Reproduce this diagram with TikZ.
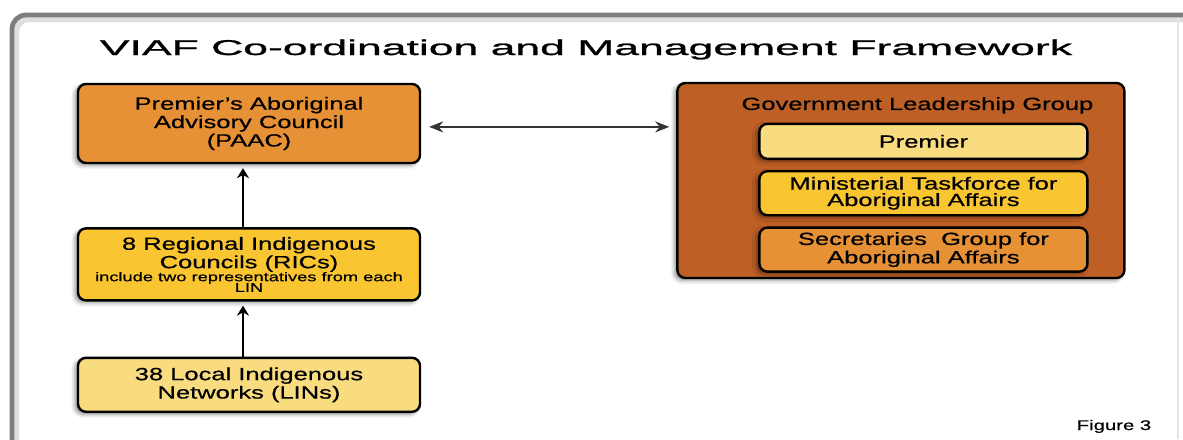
\documentclass[tikz,border=0pt]{standalone}
\usepackage{fontspec}
\setmainfont{Liberation Sans}
\newfontfamily\boxfont[FakeStretch=1.45, FakeBold=0.6]{Liberation Sans}
\newfontfamily\titlefont[FakeStretch=2.08, FakeBold=1.2]{Liberation Sans}
\usetikzlibrary{positioning, arrows.meta, shadows.blur}

\definecolor{paacorange}{RGB}{231,145,55}
\definecolor{ricyellow}{RGB}{249,198,49}
\definecolor{linyellow}{RGB}{250,220,128}
\definecolor{glgbrown}{RGB}{190,95,38}

\begin{document}
\begin{tikzpicture}[
    x=0.5pt, y=-0.5pt,
    org box/.style={
        draw=black, fill=#1, rounded corners=4pt, line width=1.2pt,
        minimum width=171pt, align=center, inner sep=2pt,
        font=\boxfont\fontsize{8.8}{8.2}\selectfont,
        blur shadow={shadow xshift=-1.5pt, shadow yshift=-1.2pt,
                     shadow blur radius=2pt, shadow opacity=45}
    },
    inner box/.style={org box=#1, minimum width=164pt},
    up arrow/.style={-{Stealth[length=5pt, width=6pt]}, line width=1pt, shorten >=2pt},
    both arrow/.style={{Stealth[length=7pt, width=5.5pt]}-{Stealth[length=7pt, width=5.5pt]},
        line width=0.8pt, draw=black!80, shorten <=4pt, shorten >=3.5pt},
    lbl/.style={font=\boxfont\fontsize{8.8}{8.2}\selectfont, inner sep=0pt}
]

\useasboundingbox (0,0) rectangle (1183,439);

% ------------------------------------------------------------------------------
% 1. MARCO Y TITULO
% ------------------------------------------------------------------------------
\draw[line width=4pt, gray!25, rounded corners=7pt] (15,18) rectangle (1215,480);
\draw[line width=2.4pt, gray!55!black!70, rounded corners=7pt] (12,15) rectangle (1210,475);
\draw[gray!20, line width=0.8pt] (1178,18) -- (1178,439);

\node[font=\titlefont\fontsize{10.7}{12}\selectfont, anchor=base] (title) at (586,55)
    {VIAF Co-ordination and Management Framework};

% ------------------------------------------------------------------------------
% 2. COLUMNA IZQUIERDA (Posicionamiento relativo eje Y)
% ------------------------------------------------------------------------------
\node[org box=paacorange, minimum height=39.5pt] (paac) at (249,123.5)
    {Premier’s Aboriginal\\Advisory Council\\(PAAC)};
\node[org box=ricyellow, minimum height=36pt, below=31.5pt of paac] (rics)
    {8 Regional Indigenous\\Councils (RICs)\\[-1.7pt]
     {\fontsize{6.3}{6.5}\selectfont include two representatives from each}\\[-2.9pt]
     {\fontsize{6.3}{6.5}\selectfont LIN}};
\node[org box=linyellow, minimum height=27pt, below=27.5pt of rics] (lins)
    {38 Local Indigenous\\Networks (LINs)};

% ------------------------------------------------------------------------------
% 3. GRUPO DE GOBIERNO
% ------------------------------------------------------------------------------
\node[org box=glgbrown, minimum width=223.5pt, minimum height=97.5pt,
      right=127.5pt of paac.north east, anchor=north west, yshift=0.5pt] (glg) {};
\node[lbl, below=7.5pt of glg.north, xshift=8.25pt] (glgtitle) {Government Leadership Group};

\node[inner box=linyellow, minimum height=17.5pt, below=4.3pt of glgtitle.south, xshift=3pt] (premier)
    {Premier};
\node[inner box=ricyellow, minimum height=22pt, below=5pt of premier] (taskforce)
    {Ministerial Taskforce for\\Aboriginal Affairs};
\node[inner box=paacorange, minimum height=22pt, below=5pt of taskforce] (secretaries)
    {Secretaries~ Group for\\Aboriginal Affairs};

% ------------------------------------------------------------------------------
% 4. FLECHAS
% ------------------------------------------------------------------------------
\draw[up arrow] ([xshift=-3pt]rics.north) -- ([xshift=-3pt]paac.south);
\draw[up arrow] ([xshift=-3pt]lins.north) -- ([xshift=-3pt]rics.south);
\draw[both arrow] ([yshift=-1.7pt]paac.east) -- ([yshift=-1.7pt]paac.east -| glg.west);

\node[font=\boxfont\fontsize{7}{8}\selectfont, anchor=base] (fig) at (1114,430) {Figure 3};

\end{tikzpicture}
\end{document}
